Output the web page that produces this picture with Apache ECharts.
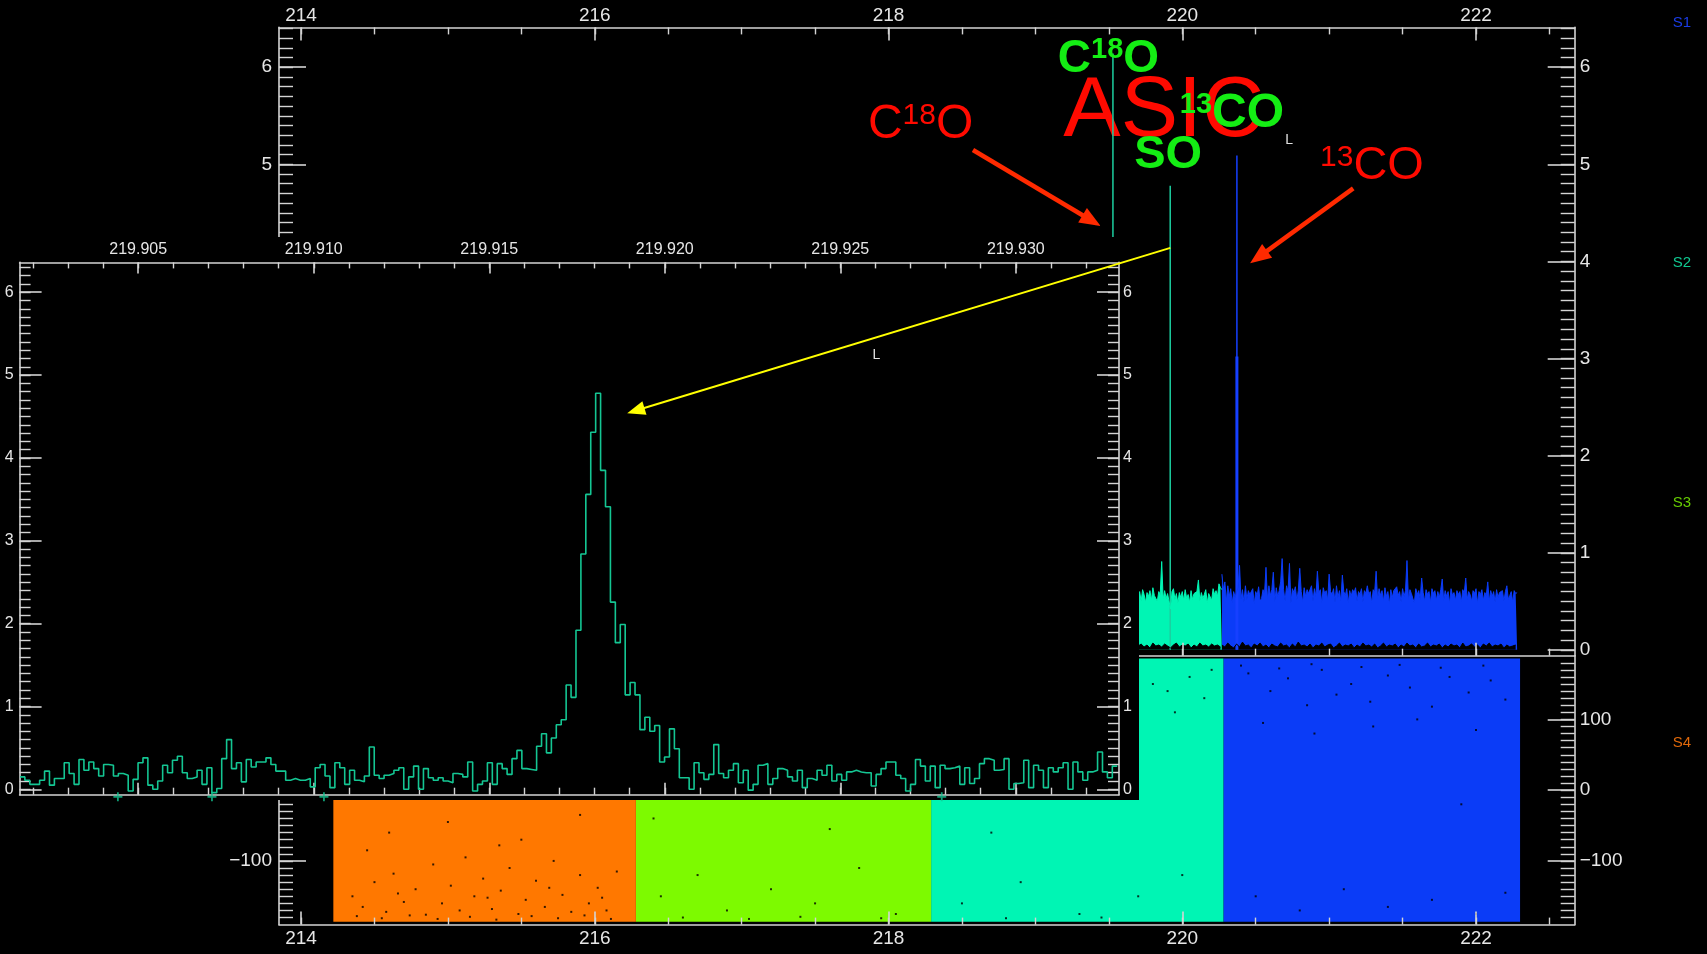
<!DOCTYPE html>
<html>
<head>
<meta charset="utf-8">
<title>ASIC sidebands</title>
<script src="https://cdn.jsdelivr.net/npm/echarts@6/dist/echarts.min.js"></script>
<style>
  html, body { margin: 0; padding: 0; background: #000; }
  #chart { width: 1707px; height: 954px; }
</style>
</head>
<body>
<div id="chart"></div>
<script>
// ---------------- data ----------------
// sidebands (GHz) shown in the lower panel
const sidebandNames  = ['S1', 'S2', 'S3', 'S4'];
const sidebandStart  = [220.28, 218.29, 216.28, 214.22];
const sidebandEnd    = [222.30, 220.28, 218.29, 216.28];
const sidebandLow    = [-186, -186, -186, -186];
const sidebandHigh   = [186, 186, 186, 186];

// axis ticks
const mainFreqTicks   = [214, 216, 218, 220, 222];
const intensityTicks  = [0, 1, 2, 3, 4, 5, 6];
const offsetTicks     = [-100, 0, 100];
const insetFreqTicks  = [219.905, 219.910, 219.915, 219.920, 219.925, 219.930];

// spectrum envelopes (upper / lower) per sideband, channel grids in GHz
const s2UpperStart = 219.70, s2UpperStep = 0.01;
const s2Upper = [0.55,0.60,0.50,0.62,0.57,0.49,0.59,0.55,0.61,0.51,
                 0.64,0.56,0.58,0.50,0.60,0.57,0.91,0.52,0.61,0.53,
                 0.58,0.56,0.42,0.60,0.63,0.52,0.58,0.48,0.59,0.54,
                 0.60,0.51,0.62,0.53,0.57,0.49,0.61,0.52,0.58,0.56,
                 0.60,0.72,0.50,0.59,0.53,0.57,0.62,0.48,0.58,0.60,
                 0.51,0.63,0.57,0.61,0.55,0.68,0.64,0.62];
const s2LowerStart = 219.70, s2LowerStep = 0.02;
const s2Lower = [0.04,0.06,0.03,0.05,0.02,0.07,0.04,0.05,0.03,0.06,0.04,0.02,0.05,0.07,0.03,
                 0.05,0.04,0.06,0.02,0.05,0.03,0.07,0.04,0.05,0.03,0.06,0.04,0.05,0.03];

const s1UpperStart = 220.27, s1UpperStep = 0.01;
const s1Upper = [0.78,0.62,0.70,0.50,0.66,0.55,0.63,0.48,0.60,0.54,
                 0.60,0.64,0.87,0.52,0.62,0.49,0.66,0.52,0.61,0.57,
                 0.59,0.63,0.47,0.60,0.56,0.65,0.50,0.53,0.62,0.57,
                 0.85,0.52,0.66,0.56,0.62,0.80,0.49,0.64,0.55,0.61,
                 0.70,0.94,0.62,0.50,0.66,0.60,0.89,0.48,0.63,0.59,
                 0.65,0.51,0.61,0.84,0.60,0.49,0.64,0.55,0.62,0.58,
                 0.60,0.66,0.50,0.63,0.55,0.81,0.59,0.62,0.48,0.64,
                 0.58,0.61,0.51,0.78,0.60,0.57,0.63,0.49,0.66,0.54,
                 0.61,0.50,0.77,0.60,0.56,0.63,0.48,0.61,0.55,0.62,
                 0.59,0.64,0.50,0.60,0.57,0.63,0.49,0.61,0.58,0.66,
                 0.57,0.60,0.48,0.62,0.59,0.81,0.52,0.63,0.56,0.61,
                 0.50,0.64,0.55,0.60,0.47,0.62,0.54,0.61,0.59,0.65,
                 0.56,0.60,0.49,0.63,0.55,0.61,0.92,0.51,0.62,0.58,
                 0.60,0.48,0.63,0.57,0.61,0.52,0.74,0.59,0.50,0.62,
                 0.57,0.60,0.49,0.63,0.58,0.61,0.51,0.60,0.54,0.62,
                 0.73,0.50,0.61,0.55,0.60,0.48,0.63,0.56,0.59,0.51,
                 0.61,0.57,0.60,0.49,0.62,0.58,0.74,0.52,0.60,0.57,
                 0.50,0.61,0.58,0.63,0.48,0.60,0.57,0.62,0.51,0.59,
                 0.56,0.70,0.50,0.61,0.55,0.60,0.49,0.62,0.54,0.59,
                 0.57,0.61,0.50,0.60,0.66,0.52,0.56,0.60,0.49,0.61,
                 0.58,0.59];
const s1LowerStart = 220.27, s1LowerStep = 0.02;
const s1Lower = [0.05,0.03,0.07,0.04,0.02,0.06,0.03,0.08,0.04,0.05,
                 0.02,0.06,0.04,0.07,0.03,0.05,0.02,0.06,0.04,0.03,
                 0.07,0.04,0.05,0.02,0.06,0.03,0.08,0.04,0.05,0.03,
                 0.06,0.02,0.05,0.04,0.07,0.03,0.05,0.06,0.02,0.04,
                 0.07,0.03,0.05,0.04,0.06,0.02,0.05,0.03,0.07,0.04,
                 0.05,0.03,0.06,0.02,0.04,0.07,0.03,0.05,0.04,0.06,
                 0.02,0.05,0.03,0.07,0.04,0.05,0.02,0.06,0.03,0.04,
                 0.07,0.03,0.05,0.04,0.06,0.02,0.05,0.03,0.06,0.04,
                 0.05,0.02,0.07,0.03,0.04,0.06,0.03,0.05,0.02,0.06,
                 0.04,0.07,0.03,0.05,0.04,0.06,0.02,0.05,0.03,0.04,
                 0.05];

// bright single-channel lines
const lineNames = ['C18O', 'SO', '13CO'];
const lineFreqs = [219.528, 219.918, 220.372];
const linePeaks = [6.14, 4.78, 5.09];
const lineBands = ['S2', 'S2', 'S1'];
const coreFreq = 220.372, corePeak = 3.02;   // broad base of the 13CO line

// zoomed SO profile (inset), channel grid
const insetStart = 219.90163, insetChannel = 0.00014018;
const insetValues = [
  0.15,0.11,0.06,0.06,0.11,0.22,0.05,0.13,0.13,0.32,
  0.19,0.06,0.36,0.23,0.33,0.25,0.16,0.30,0.29,0.16,
  0.19,0.17,-0.02,0.12,0.32,0.38,0.05,0.00,0.10,0.29,
  0.20,0.35,0.40,0.20,0.13,0.15,0.23,0.06,0.26,-0.04,
  0.01,0.37,0.60,0.25,0.32,0.09,0.36,0.27,0.33,0.33,
  0.38,0.30,0.22,0.22,0.11,0.13,0.11,0.11,0.13,0.03,
  0.26,0.30,0.16,0.02,0.32,0.26,0.06,0.23,0.11,0.09,
  0.16,0.51,0.17,0.13,0.17,0.19,0.23,0.26,0.00,0.15,
  0.28,
  0.00,0.25,0.14,0.11,0.14,0.10,0.08,0.19,0.18,0.15,
  0.33,-0.02,0.06,0.10,0.32,0.06,0.31,0.25,0.18,0.37,
  0.47,0.25,0.24,0.23,0.52,0.67,0.44,0.62,0.78,0.84,
  1.26,1.11,
  1.92,2.84,3.56,4.31,4.78,3.85,3.41,2.26,1.77,1.99,1.14,1.29,1.14,
  0.72,0.87,0.70,0.77,0.33,0.39,0.73,0.49,0.14,0.14,
  0.00,0.32,0.20,0.12,0.18,0.54,0.19,0.14,0.23,0.31,
  0.08,0.23,-0.01,0.06,0.29,0.31,0.06,0.13,0.25,0.23,
  0.15,0.10,0.23,0.02,0.13,0.11,0.23,0.17,0.29,0.10,
  0.18,0.11,0.21,0.23,0.21,0.20,0.20,0.04,0.18,0.25,
  0.33,0.33,0.17,0.13,-0.02,0.06,0.36,0.28,0.10,0.28,
  0.02,0.29,0.25,0.26,0.28,0.06,0.26,0.07,0.13,0.31,
  0.37,0.35,0.23,0.24,0.37,0.00,0.07,0.08,0.35,0.02,
  0.29,0.23,0.02,0.26,0.21,0.26,0.32,0.00,0.33,0.21,
  0.11,0.21,0.23,0.45,0.21,0.14,0.28
];
// channels falling below the inset range
const insetLowFreqs = [219.90442, 219.90710, 219.91029, 219.92789];
const insetLowValue = -0.09;

// empty samples inside the sideband blocks [GHz, offset]
const blockGaps = [
  [214.35,-150],[214.42,-165],[214.50,-130],[214.58,-172],[214.63,-118],[214.70,-158],[214.78,-140],
  [214.85,-176],[214.90,-105],[214.96,-160],[215.02,-135],[215.08,-170],[215.12,-95],[215.18,-150],
  [215.24,-125],[215.30,-168],[215.36,-142],[215.42,-110],[215.48,-175],[215.53,-155],[215.60,-128],
  [215.66,-165],[215.72,-100],[215.78,-148],[215.84,-172],[215.90,-120],[215.96,-160],[216.02,-138],
  [216.08,-170],[216.15,-115],[214.60,-60],[215.00,-45],[215.50,-70],[215.90,-35],[214.45,-85],[215.35,-78],
  [214.38,-178],[214.55,-181],[214.74,-177],[214.93,-182],[215.15,-179],[215.33,-183],[215.57,-178],
  [215.75,-181],[215.93,-177],[216.11,-182],[214.66,-146],[215.27,-152],[215.69,-138],[216.05,-152],
  [216.45,-150],[216.70,-120],[216.90,-170],[217.20,-140],[217.50,-160],[217.80,-110],[218.05,-175],
  [216.40,-40],[217.60,-55],[216.60,-180],[217.05,-182],[217.40,-179],[217.95,-181],
  [218.50,-160],[218.90,-130],[219.30,-175],[219.70,-150],[220.00,-120],[218.70,-60],[219.80,150],
  [219.90,140],[220.05,160],[220.15,130],[219.95,110],[220.20,170],[218.80,-181],[219.45,-180],
  [220.45,165],[220.60,140],[220.72,158],[220.85,120],[220.95,170],[221.05,135],[221.15,150],
  [221.28,125],[221.40,162],[221.55,145],[221.70,118],[221.82,160],[221.95,138],[222.10,155],
  [222.20,128],[220.55,95],[220.90,80],[221.30,90],[221.60,100],[222.00,85],[220.50,-150],
  [220.80,-170],[221.10,-140],[221.40,-165],[221.70,-155],[222.00,-175],[222.20,-145],[221.90,-20],
  [220.40,176],[220.66,172],[220.88,178],[221.22,174],[221.48,177],[221.76,173],[222.05,176]
];

// ---------------- styling ----------------
const FONT = 'Liberation Sans, Arial, sans-serif';
const AXIS_COLOR = '#d4d4d4';
const LABEL_COLOR = '#e6e6e6';
const bandFill = { S1: '#0b3cf7', S2: '#00f5b4', S3: '#7dfa00', S4: '#ff7800' };
const bandText = { S1: '#1a3ce6', S2: '#10c890', S3: '#66cc00', S4: '#e0680a' };
const bandLine = { S1: '#1640ff', S2: '#1ccfa0' };

const freqRange = [213.85, 222.672];
const intensityRange = [-0.06, 6.41];
const offsetRange = [-190, 190];
const insetFreqRange = [219.90162, 219.93294];
const insetIntensityRange = [-0.065, 6.36];

const gridTop   = { left: 279, top: 27.4, width: 1295.7, height: 628.3 };
const gridLow   = { left: 279, top: 655.7, width: 1295.7, height: 268.9 };
const gridInset = { left: 19.6, top: 262.4, width: 1099.4, height: 532.3 };

function steps(a, b, step) {
  const out = [];
  const n = Math.round((b - a) / step);
  for (let i = 0; i <= n; i++) out.push(+(a + i * step).toFixed(6));
  return out;
}
const minusSign = v => String(v).replace('-', '\u2212');

// each frame side = a major axis (line, long ticks, labels) + a minor-tick axis
function side(grid, pos, range, majors, minors, o) {
  const base = {
    type: 'value', gridIndex: grid, position: pos, min: range[0], max: range[1],
    z: o.z, splitLine: { show: false }, silent: true
  };
  const major = Object.assign({}, base, {
    axisLine: { show: true, onZero: false, lineStyle: { color: AXIS_COLOR, width: 1.6 } },
    axisTick: { show: true, inside: true, length: o.majorLen, customValues: majors,
                lineStyle: { color: AXIS_COLOR, width: 1.6 } },
    axisLabel: { show: !!o.labels, customValues: majors, margin: o.margin, color: LABEL_COLOR,
                 fontFamily: FONT, fontSize: o.fontSize, formatter: o.fmt || minusSign,
                 hideOverlap: false }
  });
  const minor = Object.assign({}, base, {
    axisLine: { show: false, onZero: false },
    axisTick: { show: true, inside: true, length: o.minorLen, customValues: minors,
                lineStyle: { color: AXIS_COLOR, width: 1.4 } },
    axisLabel: { show: false }
  });
  return [major, minor];
}

const mainFreqMinor = steps(214, 222.5, 0.5);
const intensityMinor = steps(0, 6.4, 0.1);
const offsetMinor = steps(-180, 180, 10);
const insetFreqMinor = steps(219.902, 219.932, 0.001);
const insetIntensityMinor = steps(0, 6.3, 0.1);
const insetFmt = v => Number(v).toFixed(3);

const mainX = { majorLen: 13, minorLen: 7, margin: 5, fontSize: 19, z: 3 };
const mainY = { majorLen: 27, minorLen: 14, margin: 7, fontSize: 19, z: 3 };
const insX  = { majorLen: 11, minorLen: 6, margin: 5, fontSize: 16, z: 6, fmt: insetFmt };
const insY  = { majorLen: 22, minorLen: 11, margin: 5, fontSize: 16, z: 6 };

const xAxes = [
  ...side(0, 'top',    freqRange, mainFreqTicks, mainFreqMinor, Object.assign({ labels: true }, mainX, { margin: 2 })), // 0,1
  ...side(0, 'bottom', freqRange, mainFreqTicks, mainFreqMinor, mainX),                                      // 2,3
  ...side(1, 'bottom', freqRange, mainFreqTicks, mainFreqMinor, Object.assign({ labels: true }, mainX)),      // 4,5
  ...side(2, 'top',    insetFreqRange, insetFreqTicks, insetFreqMinor, Object.assign({ labels: true }, insX)),// 6,7
  ...side(2, 'bottom', insetFreqRange, insetFreqTicks, insetFreqMinor, Object.assign({}, insX, { majorLen: 12, minorLen: 7 })) // 8,9
];
const yAxes = [
  ...side(0, 'left',  intensityRange, intensityTicks, intensityMinor, Object.assign({ labels: true }, mainY)),  // 0,1
  ...side(0, 'right', intensityRange, intensityTicks, intensityMinor, Object.assign({ labels: true }, mainY, { margin: 5 })), // 2,3
  ...side(1, 'left',  offsetRange, offsetTicks, offsetMinor, Object.assign({ labels: true }, mainY)),          // 4,5
  ...side(1, 'right', offsetRange, offsetTicks, offsetMinor, Object.assign({ labels: true }, mainY, { margin: 5 })), // 6,7
  ...side(2, 'left',  insetIntensityRange, intensityTicks, insetIntensityMinor, Object.assign({ labels: true }, insY, { margin: 6 })), // 8,9
  ...side(2, 'right', insetIntensityRange, intensityTicks, insetIntensityMinor, Object.assign({ labels: true }, insY, { margin: 4 }))  // 10,11
];

const onGrid = (start, step, vals) => vals.map((v, i) => [+(start + i * step).toFixed(5), v]);

function envelope(name, start, step, vals, color, z) {
  return {
    name, type: 'line', xAxisIndex: 0, yAxisIndex: 0, data: onGrid(start, step, vals),
    showSymbol: false, symbol: 'none', silent: true, z, animation: false,
    lineStyle: { color, width: 1 }, areaStyle: { color, opacity: 1 }
  };
}

function blockSeries(i) {
  const band = sidebandNames[i];
  return {
    name: band, type: 'custom', xAxisIndex: 4, yAxisIndex: 4, z: 2, silent: true,
    data: [[sidebandStart[i], sidebandEnd[i], sidebandLow[i], sidebandHigh[i]]],
    encode: { x: [0, 1], y: [2, 3] },
    itemStyle: { color: bandFill[band] },
    renderItem: (params, api) => {
      const a = api.coord([api.value(0), api.value(3)]);
      const b = api.coord([api.value(1), api.value(2)]);
      return { type: 'rect', shape: { x: a[0], y: a[1], width: b[0] - a[0], height: b[1] - a[1] },
               style: { fill: bandFill[band] } };
    }
  };
}

// step profile from channel edges
const insetEdges = insetValues.map((v, i) => [insetStart + i * insetChannel, v]);
insetEdges.push([insetStart + insetValues.length * insetChannel, insetValues[insetValues.length - 1]]);

const series = [
  envelope('S2 spectrum', s2UpperStart, s2UpperStep, s2Upper, bandFill.S2, 2),
  envelope('S1 spectrum', s1UpperStart, s1UpperStep, s1Upper, bandFill.S1, 2),
  envelope('S2 floor', s2LowerStart, s2LowerStep, s2Lower, '#000', 2),
  envelope('S1 floor', s1LowerStart, s1LowerStep, s1Lower, '#000', 2),
  {
    name: 'lines', type: 'custom', xAxisIndex: 0, yAxisIndex: 0, z: 2, silent: true,
    data: lineFreqs.map((f, i) => [f, linePeaks[i], i]),
    encode: { x: 0, y: 1 },
    renderItem: (params, api) => {
      const f = api.value(0), p = api.value(1), band = lineBands[api.value(2)];
      const a = api.coord([f, 0]), b = api.coord([f, p]);
      return { type: 'line', shape: { x1: a[0], y1: a[1], x2: b[0], y2: b[1] },
               style: { stroke: bandLine[band], lineWidth: 1.5 } };
    }
  },
  {
    name: '13CO core', type: 'custom', xAxisIndex: 0, yAxisIndex: 0, z: 2, silent: true,
    data: [[coreFreq, corePeak]],
    encode: { x: 0, y: 1 },
    renderItem: (params, api) => {
      const a = api.coord([api.value(0), 0]), b = api.coord([api.value(0), api.value(1)]);
      return { type: 'line', shape: { x1: a[0], y1: a[1], x2: b[0], y2: b[1] },
               style: { stroke: bandLine.S1, lineWidth: 3 } };
    }
  },
  blockSeries(0), blockSeries(1), blockSeries(2), blockSeries(3),
  {
    name: 'gaps', type: 'scatter', xAxisIndex: 4, yAxisIndex: 4, z: 2, silent: true,
    data: blockGaps, symbol: 'rect', symbolSize: 2, itemStyle: { color: '#000' }
  },
  {
    name: 'SO profile', type: 'line', xAxisIndex: 6, yAxisIndex: 8, z: 7, silent: true,
    data: insetEdges, step: 'end', showSymbol: false, symbol: 'none',
    lineStyle: { color: '#14c693', width: 1.6 }
  },
  {
    name: 'below range', type: 'scatter', xAxisIndex: 6, yAxisIndex: 8, z: 7, silent: true, clip: false,
    data: insetLowFreqs.map(f => [f, insetLowValue]),
    symbol: 'path://M4,0H6V4H10V6H6V10H4V6H0V4H4Z', symbolSize: 9, itemStyle: { color: '#14c693' }
  }
];

const chart = echarts.init(document.getElementById('chart'), null, { renderer: 'canvas' });
chart.setOption({
  backgroundColor: '#000',
  animation: false,
  grid: [gridTop, gridLow, gridInset].map(g => Object.assign({ outerBoundsMode: 'none', containLabel: false }, g)),
  xAxis: xAxes,
  yAxis: yAxes,
  legend: {
    orient: 'vertical', right: 11, top: 10.5, itemGap: 225, itemWidth: 0, itemHeight: 15,
    icon: 'none', selectedMode: false,
    textStyle: { fontFamily: FONT, fontSize: 15 },
    data: sidebandNames.map(n => ({ name: n, icon: 'none', textStyle: { color: bandText[n] } }))
  },
  series
});

// ---------------- annotations ----------------
const at = (x, y, xi, yi) => chart.convertToPixel({ xAxisIndex: xi, yAxisIndex: yi }, [x, y]);

function arrow(p0, p1, color, width, headLen, headW, z) {
  const dx = p1[0] - p0[0], dy = p1[1] - p0[1], L = Math.hypot(dx, dy);
  const ux = dx / L, uy = dy / L, nx = -uy, ny = ux;
  const bx = p1[0] - ux * headLen, by = p1[1] - uy * headLen;
  return [
    { type: 'line', z, silent: true, shape: { x1: p0[0], y1: p0[1], x2: bx + ux * 2, y2: by + uy * 2 },
      style: { stroke: color, lineWidth: width } },
    { type: 'polygon', z, silent: true,
      shape: { points: [[p1[0], p1[1]], [bx + nx * headW / 2, by + ny * headW / 2], [bx - nx * headW / 2, by - ny * headW / 2]] },
      style: { fill: color } }
  ];
}

// species name with superscript isotope numbers; anchor = left edge, cap middle
function species(p, parts, color, size, supSize, bold, z) {
  const w = bold ? 'bold' : 'normal';
  return {
    type: 'text', x: p[0], y: p[1] + 0.07 * size, z, silent: true,
    style: {
      text: parts.map(([t, s]) => `{${s ? 's' : 'b'}|${t}}`).join(''),
      align: 'left', verticalAlign: 'middle',
      rich: {
        b: { fontSize: size, lineHeight: size, fontFamily: FONT, fontWeight: w, fill: color },
        s: { fontSize: supSize, lineHeight: supSize + 6, fontFamily: FONT, fontWeight: w, fill: color, verticalAlign: 'top' }
      }
    }
  };
}

const RED = '#ff0a00', ARROW_RED = '#ff2a00', GREEN = '#14ee14';
const insetBg = {
  type: 'rect', z: 5, silent: true,
  shape: { x: 0, y: gridInset.top - 25.4, width: gridInset.left + gridInset.width + 20,
           height: gridInset.height + 25.4 + 5.3 },
  style: { fill: '#000' }
};
const asicAt = at(219.190, 5.603, 0, 0);
const lTop = at(220.728, 5.25, 0, 0);
const lInset = at(219.92603, 5.235, 6, 8);

const graphics = [
  insetBg,
  { type: 'text', z: 1, silent: true, x: asicAt[0], y: asicAt[1] + 0.07 * 86,
    style: { text: 'ASIC', fill: RED, fontSize: 86, fontFamily: FONT, align: 'left', verticalAlign: 'middle' } },
  species(at(217.860, 5.446, 0, 0), [['C'], ['18', 1], ['O']], RED, 48, 30, false, 1),
  species(at(220.938, 5.011, 0, 0), [['13', 1], ['CO']], RED, 47, 30, false, 1),
  species(at(219.153, 6.118, 0, 0), [['C'], ['18', 1], ['O']], GREEN, 46, 29, true, 10),
  species(at(219.983, 5.551, 0, 0), [['13', 1], ['CO']], GREEN, 48, 29, true, 10),
  species(at(219.673, 5.130, 0, 0), [['SO']], GREEN, 47, 29, true, 10),
  ...arrow(at(218.575, 5.148, 0, 0), at(219.444, 4.365, 0, 0), ARROW_RED, 4.5, 21, 17, 10),
  ...arrow(at(221.164, 4.753, 0, 0), at(220.462, 3.981, 0, 0), ARROW_RED, 4.5, 21, 17, 10),
  ...arrow(at(219.919, 4.14, 0, 0), at(219.91893, 4.54, 6, 8), '#ffff00', 2, 18, 14, 10),
  { type: 'text', z: 10, silent: true, x: lTop[0], y: lTop[1],
    style: { text: 'L', fill: '#e0e0e0', fontSize: 14, fontFamily: FONT, align: 'center', verticalAlign: 'middle' } },
  { type: 'text', z: 10, silent: true, x: lInset[0], y: lInset[1],
    style: { text: 'L', fill: '#e0e0e0', fontSize: 14, fontFamily: FONT, align: 'center', verticalAlign: 'middle' } }
];

chart.setOption({ graphic: { elements: graphics } });
</script>
</body>
</html>
